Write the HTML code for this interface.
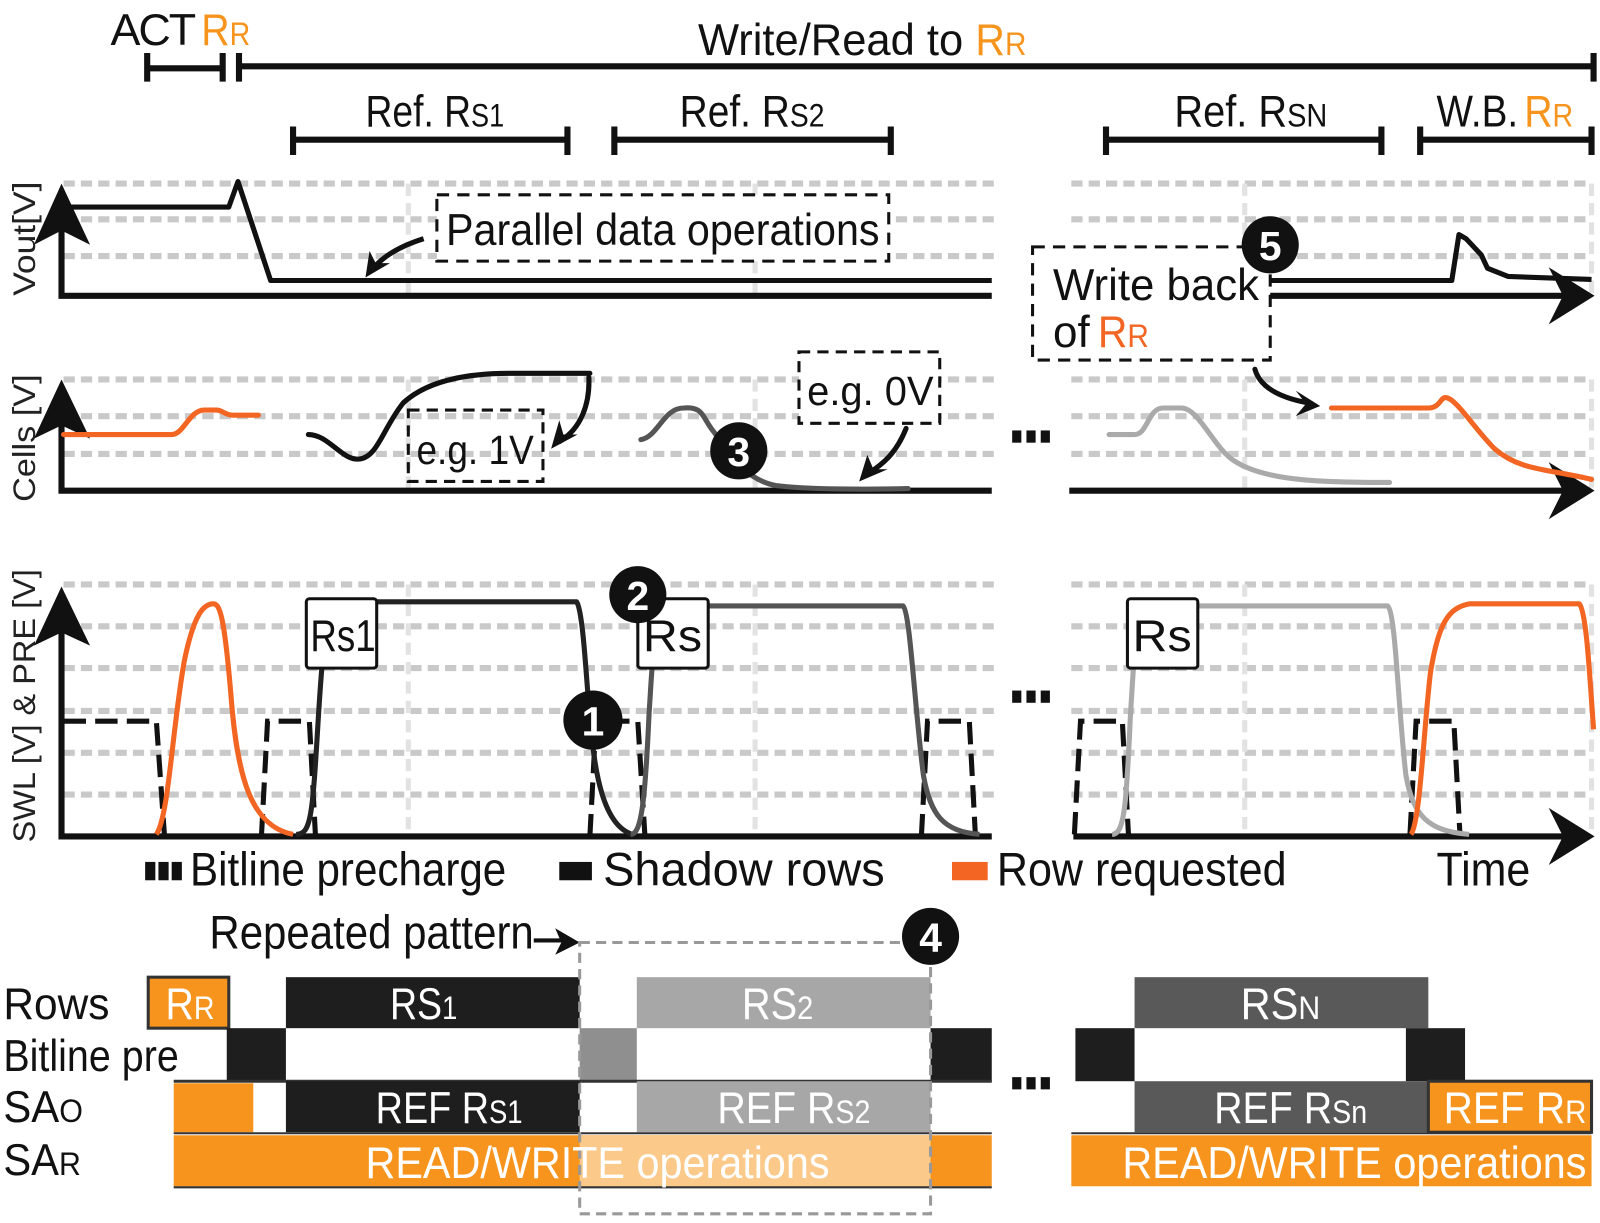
<!DOCTYPE html>
<html><head><meta charset="utf-8"><style>html,body{margin:0;padding:0;background:#fff}svg{display:block}text{font-family:"Liberation Sans",sans-serif}</style></head>
<body>
<svg width="1600" height="1223" viewBox="0 0 1568 1199" xmlns="http://www.w3.org/2000/svg">
<g fill="#111" font-size="44">
<text x="108" y="44" textLength="82" lengthAdjust="spacingAndGlyphs" letter-spacing="-2">ACT</text>
<text x="197" y="44" fill="#f7941d" textLength="48" lengthAdjust="spacingAndGlyphs">R<tspan font-size="32">R</tspan></text>
<text x="684" y="54" textLength="260" lengthAdjust="spacingAndGlyphs">Write/Read to</text>
<text x="956" y="54" fill="#f7941d" textLength="50" lengthAdjust="spacingAndGlyphs">R<tspan font-size="32">R</tspan></text>
<text x="358" y="124" textLength="136" lengthAdjust="spacingAndGlyphs">Ref. R<tspan font-size="32">S1</tspan></text>
<text x="666" y="124" textLength="142" lengthAdjust="spacingAndGlyphs">Ref. R<tspan font-size="32">S2</tspan></text>
<text x="1151" y="124" textLength="150" lengthAdjust="spacingAndGlyphs">Ref. R<tspan font-size="32">SN</tspan></text>
<text x="1408" y="124" textLength="80" lengthAdjust="spacingAndGlyphs">W.B.</text>
<text x="1494" y="124" fill="#f7941d" textLength="48" lengthAdjust="spacingAndGlyphs">R<tspan font-size="32">R</tspan></text>
</g>
<g stroke="#111" stroke-width="6" fill="none">
<path d="M144 67H218M144 52V80M218 52V80"/>
<path d="M234 65H1562M234 52V80M1562 52V80"/>
<path d="M287 137H556M287 124V152M556 124V152"/>
<path d="M602 137H873M602 124V152M873 124V152"/>
<path d="M1084 137H1354M1084 124V152M1354 124V152"/>
<path d="M1392 137H1560M1392 124V152M1560 124V152"/>
</g>
<g stroke="#c9c9c9" stroke-width="6" stroke-dasharray="11 6" fill="none">
<path d="M62 180H975M62 215H975M62 251H975M1050 180H1560M1050 215H1560M1050 251H1560"/>
<path d="M62 372H975M62 408H975M62 445H975M1050 372H1560M1050 408H1560M1050 445H1560"/>
<path d="M62 573H975M62 614H975M62 655H975M62 697H975M62 738H975M62 779H975"/>
<path d="M1050 573H1560M1050 614H1560M1050 655H1560M1050 697H1560M1050 738H1560M1050 779H1560"/>
</g>
<g stroke="#e2e2e2" stroke-width="5" stroke-dasharray="12 7" fill="none">
<path d="M400 180V290M740 180V290M1220 180V290M1560 180V290"/>
<path d="M400 372V478M740 372V478M1220 372V478M1560 372V478"/>
<path d="M400 573V820M740 573V820M1220 573V820M1560 573V820"/>
</g>
<g stroke="#111" stroke-width="6" fill="none">
<path d="M60 200V290H972M1050 290H1535"/>
<path d="M60 395V481H972M1048 481H1535"/>
<path d="M60 590V820H972M1052 820H1535"/>
</g>
<g fill="#111">
<path d="M60 180L88 240L60 226L33 240Z"/>
<path d="M60 372L88 430L60 417L33 430Z"/>
<path d="M60 575L88 633L60 620L33 633Z"/>
<path d="M1563 290L1518 262L1532 290L1518 318Z"/>
<path d="M1563 481L1518 453L1532 481L1518 509Z"/>
<path d="M1563 820L1518 792L1532 820L1518 848Z"/>
</g>
<g font-size="31" fill="#222">
<text transform="translate(34,290) rotate(-90)" textLength="112" lengthAdjust="spacingAndGlyphs">Vout[V]</text>
<text transform="translate(34,492) rotate(-90)" textLength="125" lengthAdjust="spacingAndGlyphs">Cells [V]</text>
<text transform="translate(34,826) rotate(-90)" textLength="268" lengthAdjust="spacingAndGlyphs">SWL [V] &amp; PRE [V]</text>
</g>
<g stroke="#111" stroke-width="5" fill="none" stroke-linejoin="round">
<path d="M62 203H224L233 178L265 275H972"/>
<path d="M1050 275H1423L1430 230L1437 234L1452 250L1458 263L1478 271L1560 274"/>
<path d="M415 234Q380 245 365 264"/>
</g>
<path d="M358 272L362 246L368 258L382 258Z" fill="#111"/>
<rect x="428" y="191" width="443" height="65" fill="#fff" stroke="#111" stroke-width="3" stroke-dasharray="12 8"/>
<text x="437" y="240" font-size="44" fill="#111" textLength="425" lengthAdjust="spacingAndGlyphs">Parallel data operations</text>
<g stroke-width="5" fill="none" stroke-linecap="round">
<path d="M62 426H168C180 426 185 402 200 402H212C218 402 220 407 228 407H253" stroke="#f26522"/>
<path d="M302 426C322 426 335 452 352 450C370 448 375 420 395 395C420 372 460 366 500 366H578" stroke="#111"/>
<path d="M577 370C578 395 570 420 548 433" stroke="#111"/>
<path d="M628 431C645 428 650 400 670 400C690 398 688 410 700 424C715 445 730 470 760 476C790 480 850 480 890 479" stroke="#555"/>
<path d="M1087 426H1112C1125 426 1125 400 1140 400H1158C1175 400 1190 440 1210 452C1240 472 1300 473 1362 473" stroke="#aaa"/>
<path d="M1305 400H1400C1412 400 1412 388 1418 390C1428 392 1445 420 1465 440C1490 462 1520 460 1560 470" stroke="#f26522"/>
<path d="M888 420C878 445 865 455 850 465" stroke="#111"/>
<path d="M1230 362C1235 380 1255 390 1282 395" stroke="#111"/>
</g>
<g fill="#111">
<path d="M540 440L548 412L552 426L566 426Z"/>
<path d="M842 472L850 446L856 460L870 460Z"/>
<path d="M1294 398L1270 383L1280 396L1270 408Z"/>
</g>
<rect x="400" y="402" width="132" height="70" fill="none" stroke="#111" stroke-width="3" stroke-dasharray="11 7"/>
<text x="408" y="455" font-size="40" fill="#111" textLength="115" lengthAdjust="spacingAndGlyphs">e.g. 1V</text>
<rect x="783" y="345" width="138" height="70" fill="#fff" stroke="#111" stroke-width="3" stroke-dasharray="11 7"/>
<text x="791" y="397" font-size="40" fill="#111" textLength="124" lengthAdjust="spacingAndGlyphs">e.g. 0V</text>
<rect x="1012" y="242" width="233" height="111" fill="#fff" stroke="#111" stroke-width="3" stroke-dasharray="12 8"/>
<text x="1032" y="294" font-size="44" fill="#111" textLength="202" lengthAdjust="spacingAndGlyphs">Write back</text>
<text x="1032" y="340" font-size="44" fill="#111" textLength="36" lengthAdjust="spacingAndGlyphs">of</text>
<text x="1076" y="340" font-size="44" fill="#f26522" textLength="50" lengthAdjust="spacingAndGlyphs">R<tspan font-size="32">R</tspan></text>
<g fill="#111">
<rect x="992" y="422" width="9" height="12"/><rect x="1006" y="422" width="9" height="12"/><rect x="1020" y="422" width="9" height="12"/>
<rect x="992" y="677" width="9" height="12"/><rect x="1006" y="677" width="9" height="12"/><rect x="1020" y="677" width="9" height="12"/>
<rect x="992" y="1056" width="9" height="12"/><rect x="1006" y="1056" width="9" height="12"/><rect x="1020" y="1056" width="9" height="12"/>
</g>
<g stroke="#111" stroke-width="5" fill="none" stroke-dasharray="22 9">
<path d="M62 707H153L161 820"/>
<path d="M256 820L262 707H303L309 820"/>
<path d="M578 820L584 707H625L632 820"/>
<path d="M903 820L909 707H950L956 820"/>
<path d="M1053 818L1059 707H1100L1106 818"/>
<path d="M1382 818L1388 707H1425L1431 818"/>
</g>
<g stroke-width="5" fill="none" stroke-linejoin="round">
<path d="M153 818C165 800 168 720 180 650C190 600 200 592 209 592C216 592 220 610 226 680C232 760 245 810 287 818" stroke="#f26522"/>
<path d="M290 818C305 818 306 800 312 700C316 640 318 600 330 594L369 590H565C572 600 575 680 578 700C582 760 592 810 620 818" stroke="#222"/>
<path d="M618 818C628 818 632 790 636 700C640 640 640 600 660 594H885C892 600 896 690 905 760C912 800 925 815 960 818" stroke="#555"/>
<path d="M1090 818C1102 818 1104 790 1108 700C1112 640 1112 600 1130 594H1360C1368 600 1370 690 1378 760C1385 800 1400 815 1440 818" stroke="#aaa"/>
<path d="M1383 818C1392 805 1395 720 1402 660C1410 610 1420 596 1440 592H1548C1555 600 1558 660 1562 715" stroke="#f26522"/>
</g>
<g fill="#fff" stroke="#111" stroke-width="3">
<rect x="300" y="587" width="69" height="68" rx="3"/>
<rect x="625" y="587" width="69" height="68" rx="3"/>
<rect x="1105" y="587" width="69" height="68" rx="3"/>
</g>
<g font-size="44" fill="#111">
<text x="304" y="638" textLength="64" lengthAdjust="spacingAndGlyphs">Rs1</text>
<text x="630" y="638" textLength="58" lengthAdjust="spacingAndGlyphs">Rs</text>
<text x="1110" y="638" textLength="58" lengthAdjust="spacingAndGlyphs">Rs</text>
</g>
<g fill="#111">
<rect x="142" y="845" width="10" height="18"/><rect x="155" y="845" width="10" height="18"/><rect x="168" y="845" width="10" height="18"/>
<rect x="548" y="845" width="32" height="18"/>
<rect x="933" y="845" width="35" height="18" fill="#f26522"/>
</g>
<g font-size="46" fill="#111">
<text x="186" y="868" textLength="310" lengthAdjust="spacingAndGlyphs">Bitline precharge</text>
<text x="591" y="868" textLength="276" lengthAdjust="spacingAndGlyphs">Shadow rows</text>
<text x="977" y="868" textLength="284" lengthAdjust="spacingAndGlyphs">Row requested</text>
<text x="1408" y="868" textLength="92" lengthAdjust="spacingAndGlyphs">Time</text>
<text x="205" y="930" textLength="318" lengthAdjust="spacingAndGlyphs">Repeated pattern</text>
</g>
<path d="M523 922H552" stroke="#111" stroke-width="4"/>
<path d="M568 924L544 910L550 924L544 936Z" fill="#111"/>
<g>
<rect x="145" y="958" width="79" height="50" fill="#f7941d" stroke="#333" stroke-width="3"/>
<rect x="280" y="958" width="288" height="50" fill="#1e1e1e"/>
<rect x="624" y="958" width="288" height="50" fill="#a7a7a7"/>
<rect x="222" y="1008" width="58" height="52" fill="#1e1e1e"/>
<rect x="568" y="1008" width="56" height="52" fill="#8f8f8f"/>
<rect x="912" y="1008" width="60" height="52" fill="#1e1e1e"/>
<path d="M170 1060H972" stroke="#333" stroke-width="3"/>
<rect x="170" y="1062" width="78" height="48" fill="#f7941d"/>
<rect x="280" y="1060" width="288" height="50" fill="#1e1e1e"/>
<rect x="624" y="1060" width="288" height="50" fill="#a7a7a7"/>
<rect x="170" y="1113" width="802" height="50" fill="#f7941d"/>
<rect x="568" y="1113" width="344" height="50" fill="#fbc98a"/>
<path d="M170 1111H972M170 1164H972" stroke="#333" stroke-width="2"/>
<rect x="1112" y="958" width="288" height="50" fill="#595959"/>
<rect x="1054" y="1008" width="58" height="52" fill="#1e1e1e"/>
<rect x="1378" y="1008" width="58" height="52" fill="#1e1e1e"/>
<rect x="1112" y="1060" width="288" height="50" fill="#595959"/>
<rect x="1400" y="1060" width="160" height="50" fill="#f7941d" stroke="#333" stroke-width="3"/>
<rect x="1050" y="1113" width="510" height="50" fill="#f7941d"/>
<path d="M1050 1111H1560" stroke="#333" stroke-width="2"/>
</g>
<rect x="568" y="924" width="344" height="266" fill="none" stroke="#999" stroke-width="3" stroke-dasharray="10 6"/>
<g font-size="44" fill="#111">
<text x="3" y="999" textLength="104" lengthAdjust="spacingAndGlyphs">Rows</text>
<text x="3" y="1050" textLength="172" lengthAdjust="spacingAndGlyphs">Bitline pre</text>
<text x="3" y="1100" textLength="78" lengthAdjust="spacingAndGlyphs">SA<tspan font-size="32">O</tspan></text>
<text x="3" y="1152" textLength="76" lengthAdjust="spacingAndGlyphs">SA<tspan font-size="32">R</tspan></text>
</g>
<g font-size="44" fill="#fff">
<text x="162" y="999" textLength="48" lengthAdjust="spacingAndGlyphs">R<tspan font-size="32">R</tspan></text>
<text x="382" y="999" textLength="66" lengthAdjust="spacingAndGlyphs">RS<tspan font-size="32">1</tspan></text>
<text x="727" y="999" textLength="70" lengthAdjust="spacingAndGlyphs">RS<tspan font-size="32">2</tspan></text>
<text x="1216" y="999" textLength="78" lengthAdjust="spacingAndGlyphs">RS<tspan font-size="32">N</tspan></text>
<text x="368" y="1101" textLength="144" lengthAdjust="spacingAndGlyphs">REF R<tspan font-size="32">S1</tspan></text>
<text x="703" y="1101" textLength="150" lengthAdjust="spacingAndGlyphs">REF R<tspan font-size="32">S2</tspan></text>
<text x="1190" y="1101" textLength="150" lengthAdjust="spacingAndGlyphs">REF R<tspan font-size="32">Sn</tspan></text>
<text x="1415" y="1101" textLength="140" lengthAdjust="spacingAndGlyphs">REF R<tspan font-size="32">R</tspan></text>
<text x="358" y="1155" textLength="455" lengthAdjust="spacingAndGlyphs">READ/WRITE operations</text>
<text x="1100" y="1155" textLength="455" lengthAdjust="spacingAndGlyphs">READ/WRITE operations</text>
</g>
<g fill="#111"><circle cx="581" cy="706" r="29"/><circle cx="625" cy="583" r="28"/><circle cx="724" cy="442" r="28"/><circle cx="912" cy="918" r="28"/><circle cx="1245" cy="240" r="28"/></g>
<g fill="#fff" font-size="40" font-weight="bold" text-anchor="middle">
<text x="581" y="721">1</text><text x="625" y="598">2</text><text x="724" y="457">3</text><text x="912" y="933">4</text><text x="1245" y="255">5</text>
</g>
</svg>
</body></html>
